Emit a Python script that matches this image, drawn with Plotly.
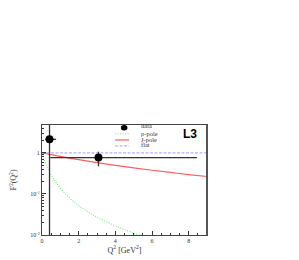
import plotly.graph_objects as go

# data points
data_q2 = [0.41, 3.08]
data_f2 = [2.14, 0.77]
data_ex_minus = [0.23, 2.63]
data_ex_plus = [0.36, 5.37]
data_ey_minus = [2.135, 0.30]
data_ey_plus = [8.0, 0.30]

# rho-pole curve
rho_q2 = [0, 0.1, 0.25, 0.5, 0.75, 1.0, 1.5, 2.0, 2.5, 3.0, 3.5, 4.0, 4.5, 5.0, 5.5]
rho_f2 = [1.0, 0.73, 0.495, 0.294, 0.195, 0.139, 0.080, 0.052, 0.037, 0.027, 0.021, 0.0167, 0.0136, 0.0112, 0.0095]

# J-pole curve
j_q2 = [0, 1, 2, 3, 4, 5, 6, 7, 8, 9]
j_f2 = [1.0, 0.82, 0.685, 0.58, 0.498, 0.432, 0.378, 0.334, 0.297, 0.266]

# flat
flat_q2 = [0, 9]
flat_f2 = [1.0, 1.0]

x_ticks = [0, 2, 4, 6, 8]
y_ticks = [0.01, 0.1, 1]
y_ticktext = ["10<sup>-2</sup>", "10<sup>-1</sup>", "1"]
y_minor = [k * 10 ** e for e in (-2, -1, 0) for k in range(2, 10)]

serif = "Liberation Serif, DejaVu Serif, serif"
green = "#70f070"
red = "#ff5c5c"
blue = "#a0a0ff"

fig = go.Figure()
fig.add_trace(go.Scatter(x=flat_q2, y=flat_f2, mode="lines",
                         line=dict(color=blue, width=1, dash="3px,1.5px")))
fig.add_trace(go.Scatter(x=j_q2, y=j_f2, mode="lines", line_shape="spline",
                         line=dict(color=red, width=1.2)))
fig.add_trace(go.Scatter(x=rho_q2, y=rho_f2, mode="lines", line_shape="spline",
                         line=dict(color=green, width=1.1, dash="1px,1.5px")))
fig.add_trace(go.Scatter(
    x=data_q2, y=data_f2, mode="markers",
    marker=dict(color="black", size=8),
    error_x=dict(type="data", symmetric=False, array=data_ex_plus, arrayminus=data_ex_minus,
                 color="#333", thickness=1.3, width=0),
    error_y=dict(type="data", symmetric=False, array=data_ey_plus, arrayminus=data_ey_minus,
                 color="#333", thickness=1.3, width=0),
))

# manual legend
legend_items = [
    ("data", 0.994), ("ρ-pole", 0.925), ("J-pole", 0.871), ("flat", 0.822)
]
for txt, yy in legend_items:
    fig.add_annotation(x=0.589, y=yy, xref="paper", yref="paper", text=txt, showarrow=False,
                       xanchor="left", yanchor="middle", font=dict(family=serif, size=6.5, color="#333"))
fig.add_shape(type="circle", xref="paper", yref="paper", x0=0.478, x1=0.518, y0=0.950, y1=1.000,
              fillcolor="black", line=dict(width=0))
fig.add_shape(type="line", xref="paper", yref="paper", x0=0.443, x1=0.528, y0=0.921, y1=0.921,
              line=dict(color=green, width=1.1, dash="1px,1.5px"))
fig.add_shape(type="line", xref="paper", yref="paper", x0=0.443, x1=0.528, y0=0.864, y1=0.864,
              line=dict(color=red, width=1.2))
fig.add_shape(type="line", xref="paper", yref="paper", x0=0.443, x1=0.528, y0=0.810, y1=0.810,
              line=dict(color=blue, width=1, dash="3px,1.5px"))
# thicker right frame edge
fig.add_shape(type="line", xref="paper", yref="paper", x0=1, x1=1, y0=0, y1=1,
              line=dict(color="#555", width=2))
fig.add_annotation(x=0.898, y=0.919, xref="paper", yref="paper", text="<b>L3</b>", showarrow=False,
                   xanchor="center", yanchor="middle",
                   font=dict(family="Liberation Sans, Arial, sans-serif", size=12, color="black"))

fig.update_layout(
    width=291, height=252,
    margin=dict(l=34, r=92, t=117, b=24.5),
    plot_bgcolor="white", paper_bgcolor="white",
    showlegend=False,
    xaxis=dict(range=[0, 9], tickvals=x_ticks, ticks="inside", ticklen=4, tickcolor="#333",
               automargin=False,
               showgrid=False, zeroline=False, showline=True, linecolor="#444", linewidth=1, mirror=True,
               tickfont=dict(family=serif, size=6, color="#333"),
               minor=dict(ticks="inside", ticklen=2, dtick=0.5, tickcolor="#333", showgrid=False),
               title=dict(text="Q<sup>2</sup> [GeV<sup>2</sup>]", standoff=0,
                          font=dict(family=serif, size=8, color="#333"))),
    yaxis=dict(type="log", range=[-2, 0.68], tickvals=y_ticks, ticktext=y_ticktext,
               ticks="inside", ticklen=4, tickcolor="#333",
               automargin=False,
               showgrid=False, zeroline=False, showline=True, linecolor="#444", linewidth=1, mirror=True,
               tickfont=dict(family=serif, size=6, color="#333"),
               minor=dict(ticks="inside", ticklen=2, tickvals=y_minor, tickcolor="#333", showgrid=False),
               title=dict(text="F<sup>2</sup>(Q<sup>2</sup>)", standoff=15,
                          font=dict(family=serif, size=8, color="#333"))),
)

fig.write_html("out.html")
